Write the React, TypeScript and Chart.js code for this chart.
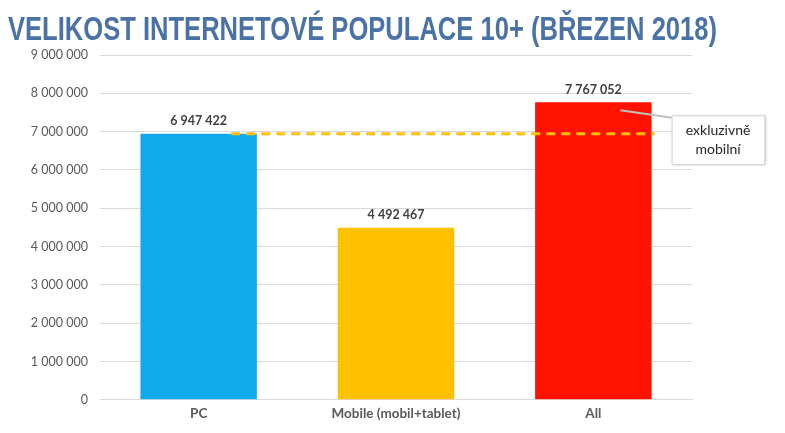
import React, { useEffect, useRef } from "react";
import { Chart, registerables } from "chart.js";

Chart.register(...registerables);

const TITLE = "VELIKOST INTERNETOVÉ POPULACE 10+ (BŘEZEN 2018)";
const categories = ["PC", "Mobile (mobil+tablet)", "All"];
const values = [6947422, 4492467, 7767052];
const barColors = ["#10AAEC", "#FFC000", "#FF1200"];
const yTicks = [0, 1000000, 2000000, 3000000, 4000000, 5000000, 6000000, 7000000, 8000000, 9000000];
const calloutLines = ["exkluzivně", "mobilní"];

const fmt = (v: number) => String(Math.round(v)).replace(/\B(?=(\d{3})+(?!\d))/g, " ");

const titlePlugin = {
  id: "freeTitle",
  afterDraw(chart: any) {
    const ctx = chart.ctx;
    ctx.save();
    ctx.font = "bold 33px 'Liberation Sans Narrow', 'Liberation Sans', sans-serif";
    ctx.fillStyle = "#4A72A6";
    ctx.textAlign = "left";
    ctx.textBaseline = "alphabetic";
    ctx.fillText(TITLE, 8, 40, 709);
    ctx.restore();
  },
};

const overlay = {
  id: "overlay",
  afterDatasetsDraw(chart: any) {
    const ctx = chart.ctx;
    const meta = chart.getDatasetMeta(0);
    const y = chart.scales.y;
    ctx.save();
    ctx.font = "bold 12.5px Lato, 'Open Sans', sans-serif";
    ctx.fillStyle = "#404040";
    ctx.textAlign = "center";
    ctx.textBaseline = "bottom";
    meta.data.forEach((bar: any, i: number) => {
      ctx.fillText(fmt(values[i]), bar.x, bar.y - 6);
    });
    const pc = meta.data[0];
    const all = meta.data[2];
    const yy = y.getPixelForValue(values[0]);
    ctx.strokeStyle = "#FFC000";
    ctx.lineWidth = 3;
    ctx.setLineDash([9, 6]);
    ctx.beginPath();
    ctx.moveTo(pc.x + pc.width * 0.28, yy);
    ctx.lineTo(all.x + all.width / 2 + 3, yy);
    ctx.stroke();
    ctx.setLineDash([]);
    const top = y.getPixelForValue(values[2]);
    const bx = all.x + all.width / 2 + 20;
    const by = top + 13;
    const bw = 93;
    const bh = 49;
    ctx.strokeStyle = "#BFBFBF";
    ctx.lineWidth = 2;
    ctx.beginPath();
    ctx.moveTo(all.x + 27, top + 8);
    ctx.lineTo(bx + 4, by + 3);
    ctx.stroke();
    ctx.shadowColor = "rgba(0,0,0,0.25)";
    ctx.shadowBlur = 3;
    ctx.shadowOffsetX = 1;
    ctx.shadowOffsetY = 1;
    ctx.fillStyle = "#FFFFFF";
    ctx.fillRect(bx, by, bw, bh);
    ctx.shadowColor = "transparent";
    ctx.strokeStyle = "#D0D0D0";
    ctx.lineWidth = 1;
    ctx.strokeRect(bx + 0.5, by + 0.5, bw, bh);
    ctx.fillStyle = "#262626";
    ctx.font = "14px Lato, 'Open Sans', sans-serif";
    ctx.textBaseline = "middle";
    ctx.fillText(calloutLines[0], bx + bw / 2, by + 15);
    ctx.fillText(calloutLines[1], bx + bw / 2, by + 34);
    ctx.restore();
  },
};

export default function App() {
  const ref = useRef<HTMLCanvasElement>(null);
  useEffect(() => {
    document.body.style.margin = "0";
    const chart = new Chart(ref.current!, {
      type: "bar",
      data: {
        labels: categories,
        datasets: [
          {
            data: values,
            backgroundColor: barColors,
            barPercentage: 0.59,
            categoryPercentage: 1,
          },
        ],
      },
      options: {
        animation: false,
        responsive: false,
        layout: { padding: { left: 8, right: 93, top: 55, bottom: 5 } },
        plugins: {
          legend: { display: false },
          tooltip: { enabled: false },
          title: { display: false },
        },
        scales: {
          x: {
            grid: { display: false, drawTicks: false },
            border: { color: "#D9D9D9" },
            ticks: { color: "#595959", font: { family: "Lato, sans-serif", size: 13.5, weight: "bold" }, padding: 6 },
          },
          y: {
            min: 0,
            max: 9000000,
            afterBuildTicks: (axis: any) => {
              axis.ticks = yTicks.map((v) => ({ value: v }));
            },
            afterFit: (axis: any) => {
              axis.width = 92;
            },
            grid: { color: "#D9D9D9", drawTicks: false },
            border: { display: false },
            ticks: {
              color: "#595959",
              font: { family: "Lato, sans-serif", size: 12.5 },
              padding: 12,
              callback: (v: any) => fmt(Number(v)),
            },
          },
        },
      },
      plugins: [overlay, titlePlugin],
    });
    return () => chart.destroy();
  }, []);
  return (
    <div style={{ width: 785, height: 433 }}>
      <canvas ref={ref} width={785} height={433} />
    </div>
  );
}
